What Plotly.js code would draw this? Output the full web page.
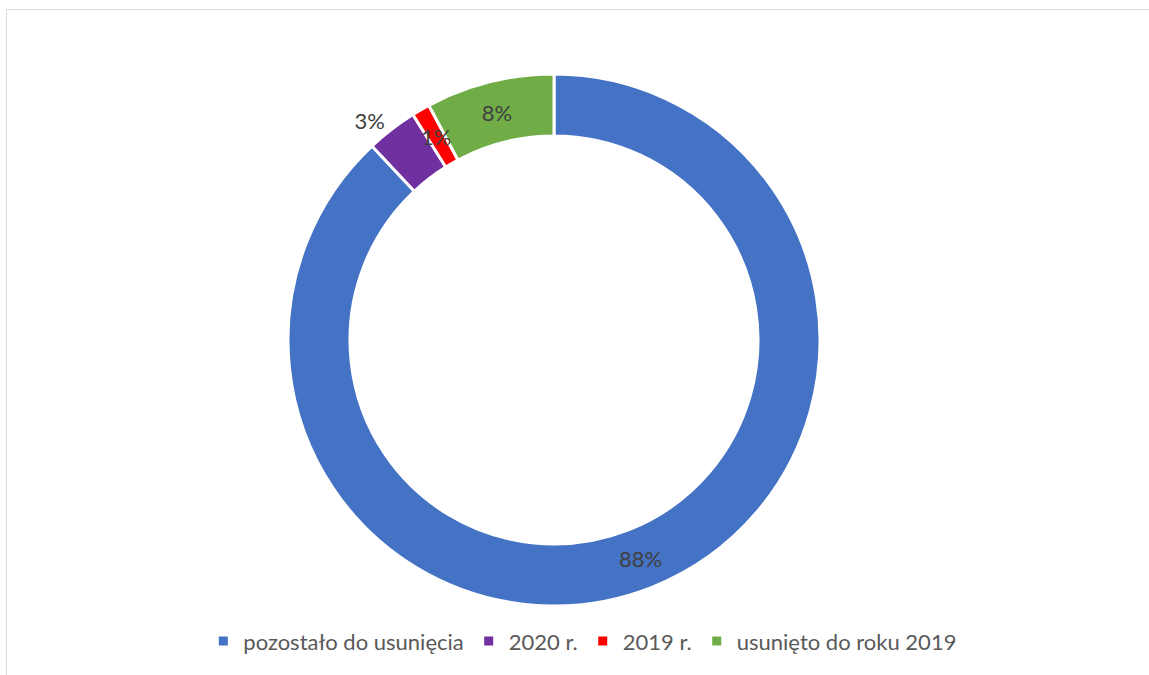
<!DOCTYPE html>
<html>
<head>
<meta charset="utf-8">
<script src="https://cdn.plot.ly/plotly-3.0.1.min.js"></script>
<style>
  html, body { margin: 0; padding: 0; background: #ffffff; }
  #frame { position: absolute; left: 0; top: 0; width: 1149px; height: 675px; }
  #chart { position: absolute; left: 0; top: 0; width: 1149px; height: 675px; }
  #bt { position: absolute; left: 6px; top: 9px; width: 1143px; height: 1px; background: #d9d9d9; }
  #bl { position: absolute; left: 6px; top: 9px; width: 1px; height: 666px; background: #d9d9d9; }
</style>
</head>
<body>
<div id="frame">
  <div id="chart"></div>
  <div id="bt"></div>
  <div id="bl"></div>
</div>
<script>
const categories = ["pozostało do usunięcia", "2020 r.", "2019 r.", "usunięto do roku 2019"];
const values = [88.0, 3.1, 1.1, 7.8];
const colors = ["#4472C4", "#7030A0", "#FF0000", "#70AD47"];
// label placement per slice: "inside", "outside", or "ring" (centred in the ring, drawn as annotation)
const labelModes = ["inside", "outside", "ring", "inside"];

const FONT = "Lato, Open Sans, sans-serif";
const FSIZE = 22;
const W = 1149, H = 675;
const M = { l: 0, r: 41, t: 74, b: 69 };
const HOLE = 0.767;

const total = values.reduce((a, b) => a + b, 0);

const trace = {
  type: "pie",
  labels: categories,
  values: values,
  hole: HOLE,
  sort: false,
  direction: "clockwise",
  rotation: 0,
  marker: { colors: colors, line: { color: "#ffffff", width: 3 } },
  texttemplate: labelModes.map(m => m === "ring" ? "" : "%{percent:.0%}"),
  textposition: labelModes.map(m => m === "ring" ? "none" : m),
  insidetextorientation: "horizontal",
  textfont: { family: FONT, size: FSIZE, color: "#404040" },
  outsidetextfont: { family: FONT, size: FSIZE, color: "#404040" },
  insidetextfont: { family: FONT, size: FSIZE, color: "#404040" },
  hoverinfo: "label+percent",
  domain: { x: [0, 1], y: [0, 1] }
};

// annotations for labels that sit centred in the ring, derived from the slice values
const pw = W - M.l - M.r, ph = H - M.t - M.b;
const R = Math.min(pw, ph) / 2;
const rMid = R * (1 + HOLE) / 2;
const annotations = [];
let cum = 0;
values.forEach((v, i) => {
  const midFrac = (cum + v / 2) / total;
  cum += v;
  if (labelModes[i] !== "ring") return;
  const ang = midFrac * 2 * Math.PI; // clockwise from 12 o'clock
  const dx = rMid * Math.sin(ang);
  const dy = rMid * Math.cos(ang);
  annotations.push({
    xref: "paper", yref: "paper",
    x: 0.5 + dx / pw, y: 0.5 + dy / ph,
    text: Math.round(v / total * 100) + "%",
    showarrow: false,
    xanchor: "center", yanchor: "middle",
    font: { family: FONT, size: FSIZE, color: "#404040" }
  });
});

const layout = {
  width: W,
  height: H,
  margin: M,
  paper_bgcolor: "rgba(0,0,0,0)",
  plot_bgcolor: "rgba(0,0,0,0)",
  showlegend: true,
  uniformtext: { mode: "show", minsize: FSIZE },
  annotations: annotations,
  legend: {
    orientation: "h",
    x: 0.526,
    xanchor: "center",
    y: -0.066,
    yanchor: "middle",
    font: { family: FONT, size: FSIZE, color: "#595959" },
    traceorder: "normal"
  }
};

Plotly.newPlot("chart", [trace], layout, { displayModeBar: false, staticPlot: true });
</script>
</body>
</html>
